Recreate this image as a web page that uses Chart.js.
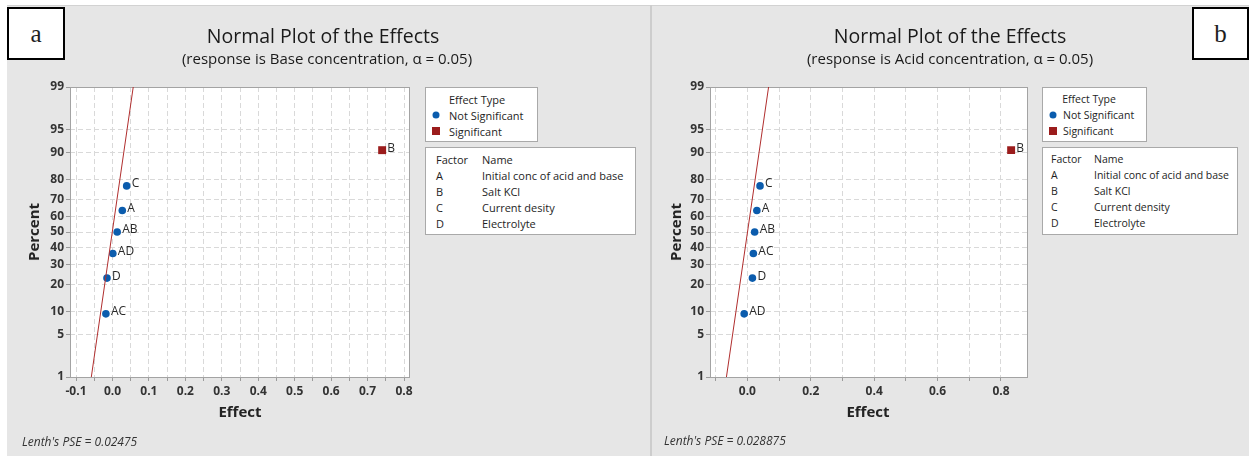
<!DOCTYPE html>
<html>
<head>
<meta charset="utf-8">
<script src="https://cdn.jsdelivr.net/npm/chart.js@4/dist/chart.umd.min.js"></script>
<style>
  html, body { margin: 0; padding: 0; background: #ffffff; }
  body { width: 1249px; height: 456px; position: relative; overflow: hidden; font-family: "Open Sans", "Noto Sans", sans-serif; color: #1e1e1e; }
  .panel { position: absolute; top: 5px; height: 451px; background: #e6e6e6; border-top: 1px solid #d2d2d2; box-sizing: border-box; }
  .sep { position: absolute; left: 650px; top: 5px; width: 2px; height: 451px; background: #cdcdcd; }
  canvas { position: absolute; top: 0; }
  .t { position: absolute; white-space: nowrap; transform: translate(-50%, -50%); }
  .l { position: absolute; white-space: nowrap; transform: translate(0, -50%); }
  .title { font-size: 19.5px; color: #1a1a1a; }
  .sub { font-size: 15px; color: #1a1a1a; }
  .axt { font-size: 15px; font-weight: bold; color: #222; }
  .pse { font-size: 12px; font-style: italic; color: #333; }
  .box { position: absolute; background: #fff; border: 1px solid #a9a9a9; box-sizing: border-box; }
  .lg { font-size: 11px; color: #1e1e1e; }
  .lgb { font-size: 10.5px; color: #1e1e1e; }
  .tag { position: absolute; background: #fff; border: 2px solid #000; box-sizing: border-box; font-family: "Liberation Serif", "DejaVu Serif", serif; font-size: 25px; display: flex; align-items: center; justify-content: center; }
  .dot { position: absolute; width: 7px; height: 7px; border-radius: 50%; background: #0b5cad; transform: translate(-50%, -50%); }
  .sq { position: absolute; width: 8px; height: 8px; background: #9b1c1c; transform: translate(-50%, -50%); }
</style>
</head>
<body>
<div class="panel" style="left:7px; width:643px;"></div>
<div class="panel" style="left:652px; width:597px;"></div>
<div class="sep"></div>

<canvas id="ca" width="650" height="456" style="left:0px;"></canvas>
<canvas id="cb" width="597" height="456" style="left:652px;"></canvas>

<!-- Panel a texts -->
<div class="tag" style="left:7px; top:7px; width:58px; height:53px;">a</div>
<div class="t title" style="left:323px; top:35px;">Normal Plot of the Effects</div>
<div class="t sub" style="left:327px; top:58px;">(response is Base concentration, α = 0.05)</div>
<div class="t axt" style="left:33px; top:232px; transform: translate(-50%,-50%) rotate(-90deg);">Percent</div>
<div class="t axt" style="left:240px; top:411px;">Effect</div>
<div class="l pse" style="left:22px; top:441px;">Lenth's PSE = 0.02475</div>

<div class="box" style="left:425px; top:87px; width:113px; height:55px;"></div>
<div class="t lg" style="left:477px; top:99px;">Effect Type</div>
<div class="dot" style="left:436px; top:115px;"></div>
<div class="l lg" style="left:449px; top:115px;">Not Significant</div>
<div class="sq" style="left:436px; top:131px;"></div>
<div class="l lg" style="left:449px; top:131px;">Significant</div>

<div class="box" style="left:425px; top:147px; width:211px; height:88px;"></div>
<div id="legA"></div>

<!-- Panel b texts -->
<div class="tag" style="left:1192px; top:7px; width:57px; height:53px;">b</div>
<div class="t title" style="left:950px; top:35px;">Normal Plot of the Effects</div>
<div class="t sub" style="left:950px; top:58px;">(response is Acid concentration, α = 0.05)</div>
<div class="t axt" style="left:675px; top:232px; transform: translate(-50%,-50%) rotate(-90deg);">Percent</div>
<div class="t axt" style="left:868px; top:411px;">Effect</div>
<div class="l pse" style="left:664px; top:440px;">Lenth's PSE = 0.028875</div>

<div class="box" style="left:1042px; top:87px; width:105px; height:55px;"></div>
<div class="t lgb" style="left:1089px; top:99px;">Effect Type</div>
<div class="dot" style="left:1053px; top:115px;"></div>
<div class="l lgb" style="left:1063px; top:115px;">Not Significant</div>
<div class="sq" style="left:1053px; top:131px;"></div>
<div class="l lgb" style="left:1063px; top:131px;">Significant</div>

<div class="box" style="left:1042px; top:147px; width:196px; height:88px;"></div>
<div id="legB"></div>

<script>
// ---------------- DATA ----------------
const yTickPercents = [1, 5, 10, 20, 30, 40, 50, 60, 70, 80, 90, 95, 99];

// Panel a: response is Base concentration
const factorsA     = ['AC', 'D', 'AD', 'AB', 'A', 'C', 'B'];
const effectsA     = [-0.018, -0.015, 0.001, 0.013, 0.027, 0.039, 0.740];
const percentsA    = [9.46, 22.97, 36.49, 50.0, 63.51, 77.03, 90.54];
const significantA = [false, false, false, false, false, false, true];
const lineEffectsA  = [-0.058, 0.057];
const linePercentsA = [1, 99];
const xTicksA  = [-0.1, -0.05, 0.0, 0.05, 0.1, 0.15, 0.2, 0.25, 0.3, 0.35, 0.4, 0.45, 0.5, 0.55, 0.6, 0.65, 0.7, 0.75, 0.8];
const xLabelsA = ['-0.1', '', '0.0', '', '0.1', '', '0.2', '', '0.3', '', '0.4', '', '0.5', '', '0.6', '', '0.7', '', '0.8'];
const factorCodesA = ['A', 'B', 'C', 'D'];
const factorNamesA = ['Initial conc of acid and base', 'Salt KCl', 'Current desity', 'Electrolyte'];

// Panel b: response is Acid concentration
const factorsB     = ['AD', 'D', 'AC', 'AB', 'A', 'C', 'B'];
const effectsB     = [-0.010, 0.016, 0.019, 0.023, 0.030, 0.040, 0.832];
const percentsB    = [9.46, 22.97, 36.49, 50.0, 63.51, 77.03, 90.54];
const significantB = [false, false, false, false, false, false, true];
const lineEffectsB  = [-0.066, 0.067];
const linePercentsB = [1, 99];
const xTicksB  = [-0.1, 0.0, 0.1, 0.2, 0.3, 0.4, 0.5, 0.6, 0.7, 0.8];
const xLabelsB = ['', '0.0', '', '0.2', '', '0.4', '', '0.6', '', '0.8'];
const factorCodesB = ['A', 'B', 'C', 'D'];
const factorNamesB = ['Initial conc of acid and base', 'Salt KCl', 'Current density', 'Electrolyte'];

// ---------------- HELPERS ----------------
function probit(p) {
  const a=[-3.969683028665376e+01,2.209460984245205e+02,-2.759285104469687e+02,1.383577518672690e+02,-3.066479806614716e+01,2.506628277459239e+00];
  const b=[-5.447609879822406e+01,1.615858368580409e+02,-1.556989798598866e+02,6.680131188771972e+01,-1.328068155288572e+01];
  const c=[-7.784894002430293e-03,-3.223964580411365e-01,-2.400758277161838e+00,-2.549732539343734e+00,4.374664141464968e+00,2.938163982698783e+00];
  const d=[7.784695709041462e-03,3.224671290700398e-01,2.445134137142996e+00,3.754408661907416e+00];
  const pl = 0.02425, ph = 1 - pl; let q, r;
  if (p < pl) { q = Math.sqrt(-2*Math.log(p)); return (((((c[0]*q+c[1])*q+c[2])*q+c[3])*q+c[4])*q+c[5])/((((d[0]*q+d[1])*q+d[2])*q+d[3])*q+1); }
  if (p <= ph) { q = p - 0.5; r = q*q; return (((((a[0]*r+a[1])*r+a[2])*r+a[3])*r+a[4])*r+a[5])*q/(((((b[0]*r+b[1])*r+b[2])*r+b[3])*r+b[4])*r+1); }
  q = Math.sqrt(-2*Math.log(1-p)); return -(((((c[0]*q+c[1])*q+c[2])*q+c[3])*q+c[4])*q+c[5])/((((d[0]*q+d[1])*q+d[2])*q+d[3])*q+1);
}

class ProbitScale extends Chart.Scale {
  determineDataLimits() { this.min = this.options.min; this.max = this.options.max; }
  buildTicks() { return yTickPercents.map(v => ({ value: v })); }
  getLabelForValue(v) { return String(v); }
  configure() {
    super.configure();
    this._zmin = probit(this.min / 100);
    this._zmax = probit(this.max / 100);
  }
  getPixelForValue(v) {
    const z = probit(v / 100);
    return this.getPixelForDecimal((z - this._zmin) / (this._zmax - this._zmin));
  }
  getPixelForTick(i) { return this.getPixelForValue(this.ticks[i].value); }
  getValueForPixel(px) { return 50; }
}
ProbitScale.id = 'probit';
ProbitScale.defaults = {};
Chart.register(ProbitScale);

const FONT = '"Open Sans", "Noto Sans", sans-serif';

const framePlugin = {
  id: 'frame',
  beforeDraw(chart) {
    const a = chart.chartArea, ctx = chart.ctx;
    ctx.save(); ctx.fillStyle = '#ffffff';
    ctx.fillRect(a.left, a.top, a.right - a.left, a.bottom - a.top);
    ctx.restore();
  },
  beforeDatasetsDraw(chart) {
    const a = chart.chartArea, ctx = chart.ctx;
    ctx.save(); ctx.strokeStyle = '#a3a3a3'; ctx.lineWidth = 1; ctx.setLineDash([]);
    ctx.strokeRect(Math.round(a.left) + 0.5, Math.round(a.top) + 0.5, Math.round(a.right - a.left), Math.round(a.bottom - a.top));
    ctx.restore();
  }
};

const labelPlugin = {
  id: 'ptlabels',
  afterDatasetsDraw(chart) {
    const ctx = chart.ctx;
    ctx.save();
    ctx.font = '12px ' + FONT; ctx.fillStyle = '#2a2a2a'; ctx.textBaseline = 'middle'; ctx.textAlign = 'left';
    chart.data.datasets.forEach((ds, di) => {
      if (!ds.pointLabels) return;
      const meta = chart.getDatasetMeta(di);
      meta.data.forEach((el, i) => { ctx.fillText(ds.pointLabels[i], el.x + 5, el.y - 2); });
    });
    ctx.restore();
  }
};

function makeChart(id, factors, effects, percents, sig, lineE, lineP, xTicks, xLabels, xmin, xmax, pad, yWidth) {
  const ns = [], nsL = [], s = [], sL = [];
  factors.forEach((f, i) => {
    if (sig[i]) { s.push({ x: effects[i], y: percents[i] }); sL.push(f); }
    else { ns.push({ x: effects[i], y: percents[i] }); nsL.push(f); }
  });
  const line = lineE.map((e, i) => ({ x: e, y: lineP[i] }));
  return new Chart(document.getElementById(id), {
    type: 'scatter',
    data: {
      datasets: [
        { data: line, showLine: true, borderColor: '#b02e2e', borderWidth: 1, pointRadius: 0, pointHoverRadius: 0 },
        { data: ns, pointLabels: nsL, pointStyle: 'circle', pointRadius: 3.8, backgroundColor: '#0b5cad', borderColor: '#0b5cad', borderWidth: 0 },
        { data: s, pointLabels: sL, pointStyle: 'rect', pointRadius: 5.6, backgroundColor: '#9b1c1c', borderColor: '#9b1c1c', borderWidth: 0 }
      ]
    },
    options: {
      responsive: false, animation: false, devicePixelRatio: 1,
      layout: { padding: pad },
      plugins: { legend: { display: false }, tooltip: { enabled: false }, title: { display: false } },
      scales: {
        x: {
          type: 'linear', min: xmin, max: xmax,
          afterBuildTicks: sc => { sc.ticks = xTicks.map(v => ({ value: v })); },
          afterFit: sc => { sc.height = 79; },
          ticks: {
            autoSkip: false, maxRotation: 0, padding: 3, color: '#333',
            font: { family: FONT, size: 12, weight: 'bold' },
            callback: (v, i) => xLabels[i]
          },
          grid: { color: '#d9d9d9', lineWidth: 1, tickLength: 4, tickColor: '#9a9a9a', tickBorderDash: [], drawTicks: true },
          border: { display: false, dash: [5, 3] }
        },
        y: {
          type: 'probit', min: 1, max: 99,
          afterFit: sc => { sc.width = yWidth; },
          ticks: {
            autoSkip: false, padding: 2, color: '#333',
            font: { family: FONT, size: 12, weight: 'bold' },
            callback: (v, i) => String(yTickPercents[i])
          },
          grid: {
            color: c => (c.tick && (c.tick.value === 1 || c.tick.value === 99)) ? 'rgba(0,0,0,0)' : '#d9d9d9',
            lineWidth: 1, tickLength: 4, tickColor: '#9a9a9a', tickBorderDash: [], drawTicks: true
          },
          border: { display: false, dash: [5, 3] }
        }
      }
    },
    plugins: [framePlugin, labelPlugin]
  });
}

makeChart('ca', factorsA, effectsA, percentsA, significantA, lineEffectsA, linePercentsA,
  xTicksA, xLabelsA, -0.1165, 0.8137, { left: 0, top: 87, right: 241, bottom: 0 }, 70);
makeChart('cb', factorsB, effectsB, percentsB, significantB, lineEffectsB, linePercentsB,
  xTicksB, xLabelsB, -0.1178, 0.883, { left: 0, top: 87, right: 221.7, bottom: 0 }, 58);

// factor tables
function factorTable(elId, codes, names, xCode, xName, cls) {
  const host = document.getElementById(elId);
  let html = '<div class="l ' + cls + '" style="left:' + xCode + 'px; top:159px;">Factor</div>' +
             '<div class="l ' + cls + '" style="left:' + xName + 'px; top:159px;">Name</div>';
  const rows = [175, 191, 207, 223];
  codes.forEach((c, i) => {
    html += '<div class="l ' + cls + '" style="left:' + xCode + 'px; top:' + rows[i] + 'px;">' + c + '</div>';
    html += '<div class="l ' + cls + '" style="left:' + xName + 'px; top:' + rows[i] + 'px;">' + names[i] + '</div>';
  });
  host.innerHTML = html;
}
factorTable('legA', factorCodesA, factorNamesA, 436, 482, 'lg');
factorTable('legB', factorCodesB, factorNamesB, 1051, 1094, 'lgb');
</script>
</body>
</html>
